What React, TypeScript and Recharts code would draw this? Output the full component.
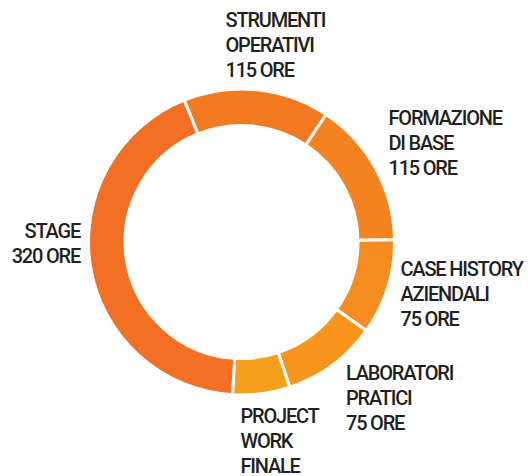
import React from 'react';
import { PieChart, Pie, Cell } from 'recharts';

// Categories (label lines as printed) and hours per module
const CATEGORY_LINES: string[][] = [
  ['STRUMENTI', 'OPERATIVI'],
  ['FORMAZIONE', 'DI BASE'],
  ['CASE HISTORY', 'AZIENDALI'],
  ['LABORATORI', 'PRATICI'],
  ['PROJECT', 'WORK', 'FINALE'],
  ['STAGE'],
];
const HOURS: number[] = [115, 115, 75, 75, 45, 320];
// Project work value is not printed in the reference (estimated)
const SHOW_HOURS: boolean[] = [true, true, true, true, false, true];
const COLORS: string[] = ['#F47A21', '#F58220', '#F68C1F', '#F7951D', '#F8A01D', '#F26F23'];

const data = HOURS.map((h, i) => ({
  name: CATEGORY_LINES[i].join(' '),
  value: h,
  lines: SHOW_HOURS[i] ? [...CATEGORY_LINES[i], `${h} ORE`] : CATEGORY_LINES[i],
}));

// label placement relative to pie centre
const LABEL_LAYOUT = [
  { dx: -16, dy: -215.5, anchor: 'start' },
  { dx: 147, dy: -117.5, anchor: 'start' },
  { dx: 159, dy: 34, anchor: 'start' },
  { dx: 104.5, dy: 137.5, anchor: 'start' },
  { dx: -1, dy: 180.5, anchor: 'start' },
  { dx: -161.5, dy: -4.5, anchor: 'end' },
];
const LINE_HEIGHT = 25;

const renderLabel = (props: any) => {
  const { cx, cy, index } = props;
  const lay = LABEL_LAYOUT[index];
  const lines: string[] = data[index].lines;
  return (
    <text
      key={`lbl-${index}`}
      x={cx + lay.dx}
      y={cy + lay.dy}
      textAnchor={lay.anchor}
      fill="#231F20"
      fontFamily="Roboto, 'Noto Sans', sans-serif"
      fontSize={20}
      fontWeight={500}
      letterSpacing={-1.2}
    >
      {lines.map((l, i) => (
        <tspan key={i} x={cx + lay.dx} y={cy + lay.dy + i * LINE_HEIGHT}>
          {l}
        </tspan>
      ))}
    </text>
  );
};

export default function App() {
  return (
    <div style={{ position: 'absolute', left: 0, top: 0, width: 528, height: 476, background: '#fff' }}>
      <PieChart width={528} height={476} margin={{ top: 0, right: 0, bottom: 0, left: 0 }}>
        <Pie
          data={data}
          dataKey="value"
          nameKey="name"
          cx={241.5}
          cy={242}
          innerRadius={116.5}
          outerRadius={153}
          startAngle={112}
          endAngle={112 - 360}
          stroke="#ffffff"
          strokeWidth={3}
          label={renderLabel}
          labelLine={false}
          isAnimationActive={false}
        >
          {data.map((d, i) => (
            <Cell key={d.name} fill={COLORS[i]} />
          ))}
        </Pie>
      </PieChart>
    </div>
  );
}
